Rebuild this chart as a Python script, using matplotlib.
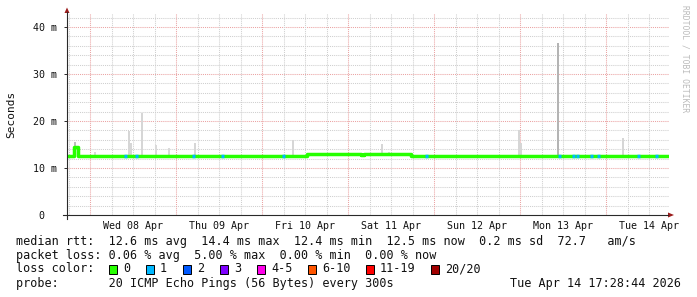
"""
SmokePing style latency graph: median rtt coloured by packet loss, with smoke.
"""

import datetime as dt
import matplotlib
matplotlib.use("Agg")
import matplotlib.pyplot as plt
from matplotlib.lines import Line2D
from matplotlib.patches import Polygon, Rectangle

W, H = 697, 297
start = dt.datetime(2026, 4, 7, 17, 28, 44)
span_h = 168

# hourly median rtt in ms, first bin starts at `start`
median_ms = (
    # Tue 07 evening
    [12.6, 12.6, 14.4, 12.6, 12.6, 12.6, 12.6]
    # Wed 08
    + [12.6, 12.6, 12.5, 12.5, 12.6, 12.5, 12.5, 12.6, 12.5, 12.5, 12.6, 12.6,
       12.5, 12.6, 12.6, 12.6, 12.6, 12.6, 12.6, 12.5, 12.5, 12.5, 12.5, 12.5]
    # Thu 09
    + [12.5, 12.5, 12.5, 12.5, 12.5, 12.6, 12.6, 12.6, 12.6, 12.6, 12.6, 12.6,
       12.6, 12.6, 12.6, 12.6, 12.6, 12.6, 12.6, 12.6, 12.6, 12.6, 12.6, 12.5]
    # Fri 10
    + [12.5, 12.5, 12.5, 12.5, 12.5, 12.5, 12.5, 12.5, 12.5, 12.5, 12.5, 12.5,
       12.9, 12.9, 12.9, 12.9, 12.9, 12.9, 12.9, 12.9, 12.9, 12.9, 12.9, 12.9]
    # Sat 11
    + [12.9, 12.9, 12.9, 12.8, 12.9, 12.9, 12.9, 12.9, 12.9, 12.9, 12.9, 12.9,
       12.9, 12.9, 12.9, 12.9, 12.9, 12.5, 12.5, 12.5, 12.5, 12.5, 12.6, 12.5]
    # Sun 12
    + [12.5, 12.6, 12.5, 12.5, 12.6, 12.6, 12.5, 12.6, 12.5, 12.6, 12.6, 12.5,
       12.6, 12.5, 12.6, 12.6, 12.5, 12.5, 12.5, 12.5, 12.5, 12.6, 12.5, 12.6]
    # Mon 13
    + [12.5, 12.6, 12.5, 12.6, 12.6, 12.5, 12.6, 12.5, 12.6, 12.6, 12.5, 12.5,
       12.5, 12.5, 12.6, 12.5, 12.5, 12.6, 12.5, 12.5, 12.6, 12.5, 12.5, 12.6]
    # Tue 14
    + [12.5, 12.5, 12.6, 12.5, 12.6, 12.5, 12.6, 12.6, 12.5, 12.5, 12.6, 12.5,
       12.6, 12.5, 12.5, 12.6, 12.5]
)

# hours (from start) where 1 of 20 pings was lost
loss1_hours = [16, 19, 35, 43, 60, 100, 137, 141, 142, 146, 148, 159, 164]

# smoke: time (h from start), top of spread (ms), shade
smoke_hours = [1.9, 7.5, 17.0, 17.6, 20.6, 24.6, 28.3, 35.4, 62.8, 87.6, 89.6,
               125.9, 126.4, 136.7, 154.9]
smoke_top = [15.6, 13.4, 17.8, 15.3, 21.8, 15.0, 14.3, 15.4, 16.0, 15.1, 13.5,
             18.0, 15.4, 36.7, 16.4]
smoke_shade = ["#bdbdbd", "#dadada", "#d6d6d6", "#d6d6d6", "#d6d6d6", "#dadada",
               "#dadada", "#d6d6d6", "#d6d6d6", "#d6d6d6", "#dadada", "#d6d6d6",
               "#d6d6d6", "#b4b4b4", "#d6d6d6"]

y_ticks = [0, 10, 20, 30, 40]
y_labels = ["0  ", "10 m", "20 m", "30 m", "40 m"]

loss_labels = ["0", "1", "2", "3", "4-5", "6-10", "11-19", "20/20"]
loss_colors = ["#26ff00", "#00b8ff", "#0059ff", "#7e00ff", "#ff00ea",
               "#ff5500", "#ff0000", "#a10000"]
loss_box_x = [109, 146, 183, 220, 257, 308, 366, 431]

rtt_line = ("median rtt:  12.6 ms avg  14.4 ms max  12.4 ms min  12.5 ms now"
            "  0.2 ms sd  72.7   am/s")
loss_line = "packet loss: 0.06 % avg  5.00 % max  0.00 % min  0.00 % now"
probe_line = "probe:       20 ICMP Echo Pings (56 Bytes) every 300s"
stamp = "Tue Apr 14 17:28:44 2026"

MONO = "DejaVu Sans Mono"
MINOR = "#cfcfcf"
MAJOR = "#eba3a3"
AXIS = "#2a2a2a"
ARROW = "#9b1c1c"


def fx(x):
    return x / W


def fy(y):
    return 1 - y / H


fig = plt.figure(figsize=(W / 100, H / 100), dpi=100)
fig.patch.set_facecolor("white")
ax = fig.add_axes([fx(67), fy(215), (669 - 67) / W, (215 - 13) / H])
ax.set_xlim(0, span_h)
ax.set_ylim(0, 43)
for s in ax.spines.values():
    s.set_visible(False)

# grid
dot = (0, (1, 1))
for v in range(2, 43, 2):
    ax.axhline(v, color=MAJOR if v % 10 == 0 else MINOR, lw=0.75, ls=dot, zorder=0)
midnight0 = (dt.datetime(2026, 4, 8) - start).total_seconds() / 3600
t = midnight0 - 6
while t < span_h:
    is_day = abs((t - midnight0) % 24) < 1e-6
    ax.axvline(t, color=MAJOR if is_day else MINOR, lw=0.75, ls=dot, zorder=0)
    t += 6

# smoke
ax.bar(smoke_hours, [top - median_ms[int(h)] for h, top in zip(smoke_hours, smoke_top)],
       bottom=[median_ms[int(h)] for h in smoke_hours], width=0.55, align="edge",
       color=smoke_shade, lw=0, zorder=2)

# median line, coloured by loss
hours = list(range(span_h + 1))
ax.step(hours, median_ms + [median_ms[-1]], where="post", color=loss_colors[0],
        lw=2.5, solid_capstyle="butt", zorder=3)
ax.hlines([median_ms[h] for h in loss1_hours], loss1_hours,
          [h + 0.8 for h in loss1_hours], color=loss_colors[1], lw=2.5, zorder=4)

# ticks
noons = []
names = []
for d in range(8, 15):
    day = dt.datetime(2026, 4, d, 12)
    noons.append((day - start).total_seconds() / 3600)
    names.append(day.strftime("%a %d %b"))
ax.set_xticks(noons, names, fontfamily=MONO, fontsize=7.2, color="#111111")
ax.tick_params(axis="x", length=0, pad=4)
ax.set_yticks(y_ticks, y_labels, fontfamily=MONO, fontsize=7.2, color="#111111")
ax.tick_params(axis="y", length=2, width=0.7, color=AXIS, pad=5)

fig.text(fx(11), fy(114), "Seconds", rotation=90, ha="center", va="center",
         fontfamily=MONO, fontsize=8, color="#111111")

# axes with arrows
fig.add_artist(Line2D([fx(63), fx(668)], [fy(215), fy(215)], color=AXIS, lw=0.8))
fig.add_artist(Line2D([fx(67), fx(67)], [fy(219), fy(12)], color=AXIS, lw=0.8))
fig.add_artist(Polygon([(fx(668), fy(212.5)), (fx(668), fy(217.5)), (fx(674), fy(215))],
                       closed=True, color=ARROW, lw=0))
fig.add_artist(Polygon([(fx(64.5), fy(13)), (fx(69.5), fy(13)), (fx(67), fy(7.5))],
                       closed=True, color=ARROW, lw=0))

fig.text(fx(685), fy(5), "RRDTOOL / TOBI OETIKER", rotation=-90, ha="center",
         va="top", fontfamily=MONO, fontsize=5.8, color="#bbbbbb")

# legend block
txt = dict(fontfamily=MONO, fontsize=8.5, color="#111111", va="center")
fig.text(fx(16), fy(241), rtt_line, **txt)
fig.text(fx(16), fy(255), loss_line, **txt)
fig.text(fx(16), fy(269), "loss color:", **txt)
for x, lab, col in zip(loss_box_x, loss_labels, loss_colors):
    fig.add_artist(Rectangle((fx(x), fy(273.5)), 8 / W, 9 / H, facecolor=col,
                             edgecolor="black", lw=0.7))
    fig.text(fx(x + 14), fy(269), lab, **txt)
fig.text(fx(16), fy(284), probe_line, **txt)
fig.text(fx(681), fy(284), stamp, ha="right", **txt)

fig.savefig("out.png", dpi=100)
plt.close(fig)
